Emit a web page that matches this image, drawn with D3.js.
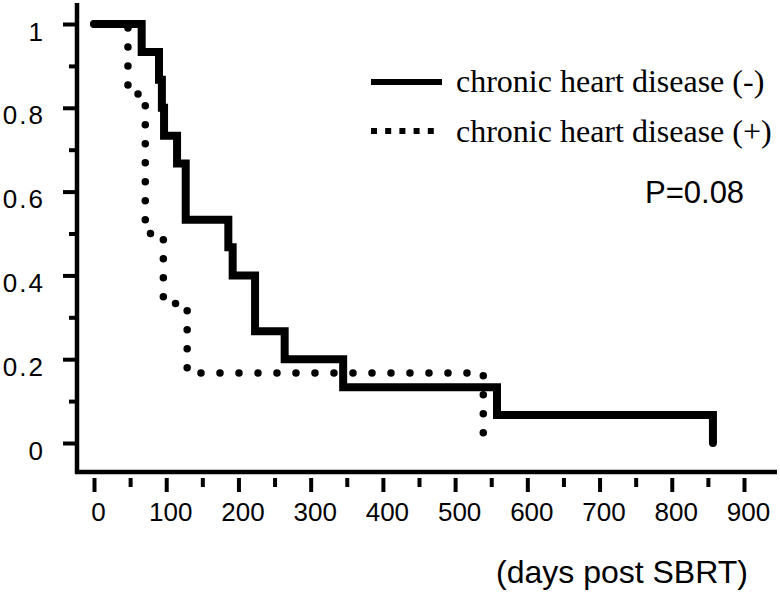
<!DOCTYPE html>
<html>
<head>
<meta charset="utf-8">
<script src="https://cdn.jsdelivr.net/npm/d3@7"></script>
<style>
  body { margin: 0; background: #fff; }
  svg { display: block; }
</style>
</head>
<body>
<div id="chart"></div>
<script>
// survival data
const groupNames = ['chronic heart disease (-)', 'chronic heart disease (+)'];
const negDays = [0, 66, 90, 94, 97, 115, 127, 186, 192, 223, 264, 345, 558, 857];
const negSurv = [1, 0.933, 0.867, 0.8, 0.733, 0.667, 0.533, 0.467, 0.4, 0.267, 0.2, 0.133, 0.067, 0];
const posDays = [0, 47, 71, 96, 129, 539];
const posSurv = [1, 0.833, 0.5, 0.333, 0.167, 0];

const xMajor = [0, 100, 200, 300, 400, 500, 600, 700, 800, 900];
const xMinor = [50, 150, 250, 350, 450, 550, 650, 750, 850];
const yMajor = [0, 0.2, 0.4, 0.6, 0.8, 1];
const yMinor = [0.1, 0.3, 0.5, 0.7, 0.9];
const pText = 'P=0.08';
const xTitle = '(days post SBRT)';

const width = 780;
const height = 592;

const svg = d3.select('#chart').append('svg')
  .attr('width', width)
  .attr('height', height);

const x = d3.scaleLinear().domain([0, 900]).range([94, 744]);
const y = d3.scaleLinear().domain([0, 1]).range([443, 24]);

const axisX = 77;
const axisY = 472;

// axis lines
svg.append('line')
  .attr('x1', axisX).attr('x2', axisX)
  .attr('y1', 3).attr('y2', axisY + 2)
  .attr('stroke', '#000').attr('stroke-width', 4.5);
svg.append('line')
  .attr('x1', axisX - 2).attr('x2', 777)
  .attr('y1', axisY).attr('y2', axisY)
  .attr('stroke', '#000').attr('stroke-width', 4.5);

// x ticks sit a little below the axis line
const xAxis = svg.append('g')
  .attr('transform', `translate(0,${axisY + 6})`)
  .call(d3.axisBottom(x).tickValues(xMajor).tickSize(14).tickPadding(11));
xAxis.select('.domain').remove();
xAxis.selectAll('.tick line').attr('stroke-width', 4);
xAxis.selectAll('.tick text')
  .attr('font-family', 'Liberation Sans, Arial, sans-serif')
  .attr('font-size', 26)
  .attr('dx', 4)
  .attr('fill', '#000');

const xAxisMinor = svg.append('g')
  .attr('transform', `translate(0,${axisY + 6})`)
  .call(d3.axisBottom(x).tickValues(xMinor).tickSize(9).tickFormat(''));
xAxisMinor.select('.domain').remove();
xAxisMinor.selectAll('.tick line').attr('stroke-width', 4);

// y ticks
const yAxis = svg.append('g')
  .attr('transform', `translate(${axisX},0)`)
  .call(d3.axisLeft(y).tickValues(yMajor).tickSize(14).tickPadding(18)
    .tickFormat((d) => (d === 0 || d === 1 ? String(d) : d3.format('.1f')(d))));
yAxis.select('.domain').remove();
yAxis.selectAll('.tick line').attr('stroke-width', 4);
yAxis.selectAll('.tick text')
  .attr('font-family', 'Liberation Sans, Arial, sans-serif')
  .attr('font-size', 26)
  .attr('letter-spacing', 2)
  .attr('dy', 16)
  .attr('fill', '#000');

const yAxisMinor = svg.append('g')
  .attr('transform', `translate(${axisX},0)`)
  .call(d3.axisLeft(y).tickValues(yMinor).tickSize(8).tickFormat(''));
yAxisMinor.select('.domain').remove();
yAxisMinor.selectAll('.tick line').attr('stroke-width', 4);

// step curves
const step = d3.line()
  .x((d) => x(d[0]))
  .y((d) => y(d[1]))
  .curve(d3.curveStepAfter);

svg.append('path')
  .datum(negDays.map((d, i) => [d, negSurv[i]]))
  .attr('d', step)
  .attr('fill', 'none')
  .attr('stroke', '#000')
  .attr('stroke-width', 8)
  .attr('stroke-linecap', 'round');

svg.append('path')
  .datum(posDays.map((d, i) => [d, posSurv[i]]))
  .attr('d', step)
  .attr('fill', 'none')
  .attr('stroke', '#000')
  .attr('stroke-width', 7.5)
  .attr('stroke-linecap', 'round')
  .attr('stroke-dasharray', '0 19');

// legend
const legend = svg.append('g');
legend.append('line')
  .attr('x1', 371).attr('x2', 442)
  .attr('y1', 82).attr('y2', 82)
  .attr('stroke', '#000').attr('stroke-width', 6);
legend.append('line')
  .attr('x1', 371).attr('x2', 442)
  .attr('y1', 131).attr('y2', 131)
  .attr('stroke', '#000').attr('stroke-width', 6)
  .attr('stroke-dasharray', '6 8.2');
legend.selectAll('text')
  .data(groupNames)
  .enter()
  .append('text')
  .attr('x', 456)
  .attr('y', (d, i) => 92 + i * 50)
  .attr('font-family', 'Liberation Serif, Times New Roman, serif')
  .attr('font-size', 32)
  .attr('fill', '#000')
  .text((d) => d);

svg.append('text')
  .attr('x', 645).attr('y', 203)
  .attr('font-family', 'Liberation Sans, Arial, sans-serif')
  .attr('font-size', 31)
  .attr('fill', '#000')
  .text(pText);

svg.append('text')
  .attr('x', 496).attr('y', 583)
  .attr('font-family', 'Liberation Sans, Arial, sans-serif')
  .attr('font-size', 32)
  .attr('fill', '#000')
  .text(xTitle);
</script>
</body>
</html>
